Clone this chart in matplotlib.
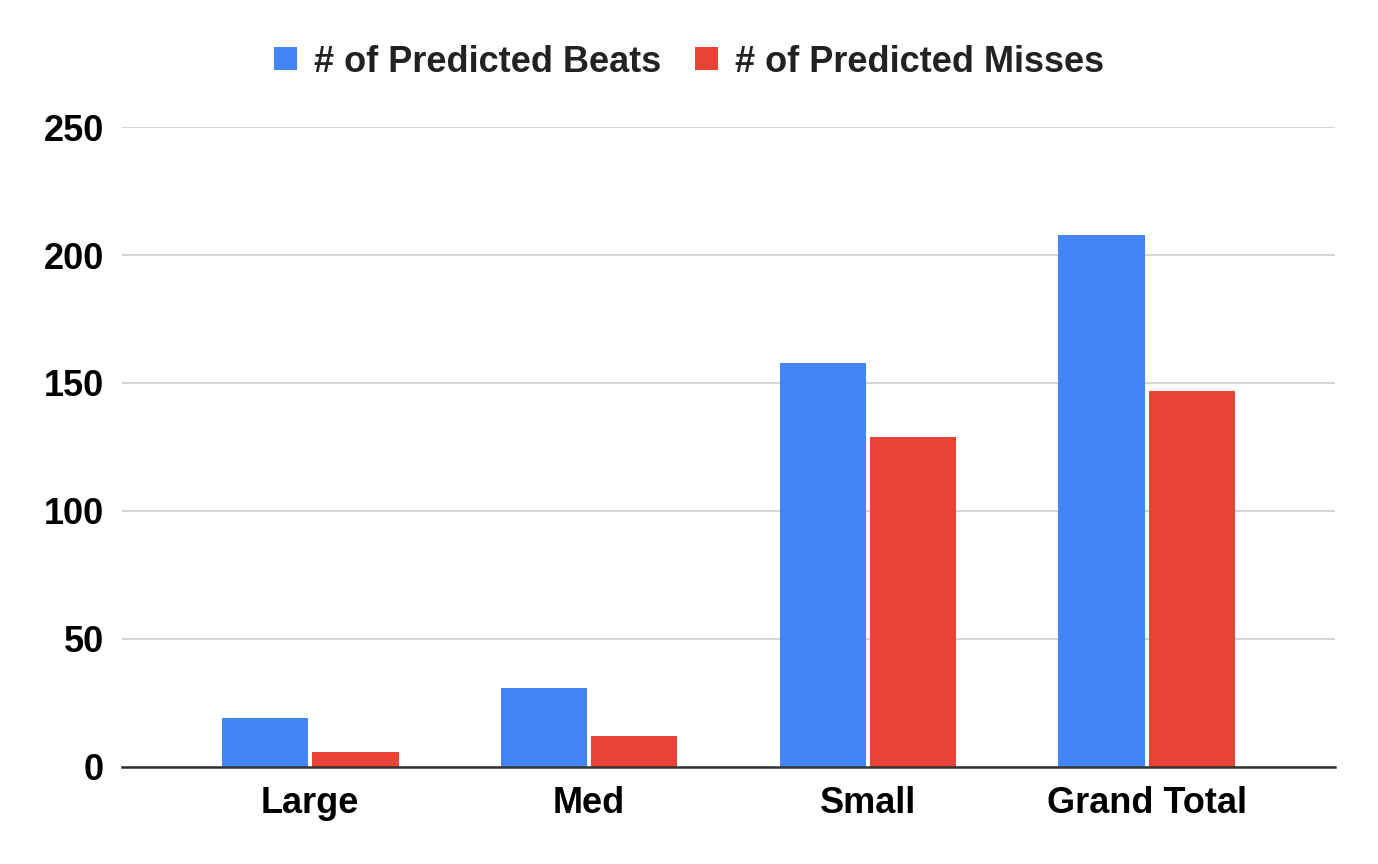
import matplotlib
matplotlib.use("Agg")
import matplotlib.pyplot as plt
import numpy as np

categories = ["Large", "Med", "Small", "Grand Total"]
beats = [19, 31, 158, 208]
misses = [6, 12, 129, 147]
series_names = ["# of Predicted Beats", "# of Predicted Misses"]
yticks = [0, 50, 100, 150, 200, 250]

plt.rcParams['font.family'] = ['Liberation Sans', 'DejaVu Sans']
plt.rcParams['font.weight'] = 'bold'

fig = plt.figure(figsize=(13.78, 8.64), dpi=100)
ax = fig.add_axes([0.0885, 0.1123, 0.8803, 0.7407])

x = np.arange(len(categories))
w = 0.31
off = 0.162
ax.bar(x - off, beats, w, color="#4285f4", label=series_names[0], zorder=3)
ax.bar(x + off, misses, w, color="#ea4335", label=series_names[1], zorder=3)

ax.set_xlim(-0.675, 3.675)
ax.set_ylim(0, 250)
ax.set_yticks(yticks)
ax.set_yticklabels([str(t) for t in yticks])
ax.set_xticks(x)
ax.set_xticklabels(categories)
ax.tick_params(axis='y', length=0, pad=13, labelsize=26, labelcolor='black')
ax.tick_params(axis='x', length=0, pad=14, labelsize=26, labelcolor='black')
ax.grid(axis='y', color='#cccccc', linewidth=1.2, zorder=0)
for s in ['top', 'right', 'left']:
    ax.spines[s].set_visible(False)
ax.spines['bottom'].set_color('#333333')
ax.spines['bottom'].set_linewidth(1.8)
ax.spines['bottom'].set_zorder(4)

leg = fig.legend(loc='center', bbox_to_anchor=(0.5, 1 - 62/864), ncol=2, frameon=False,
                 fontsize=26, handlelength=0.62, handleheight=0.62, handletextpad=0.47,
                 columnspacing=0.95)
for t in leg.get_texts():
    t.set_color('#222222')

fig.savefig("out.png", dpi=100)
